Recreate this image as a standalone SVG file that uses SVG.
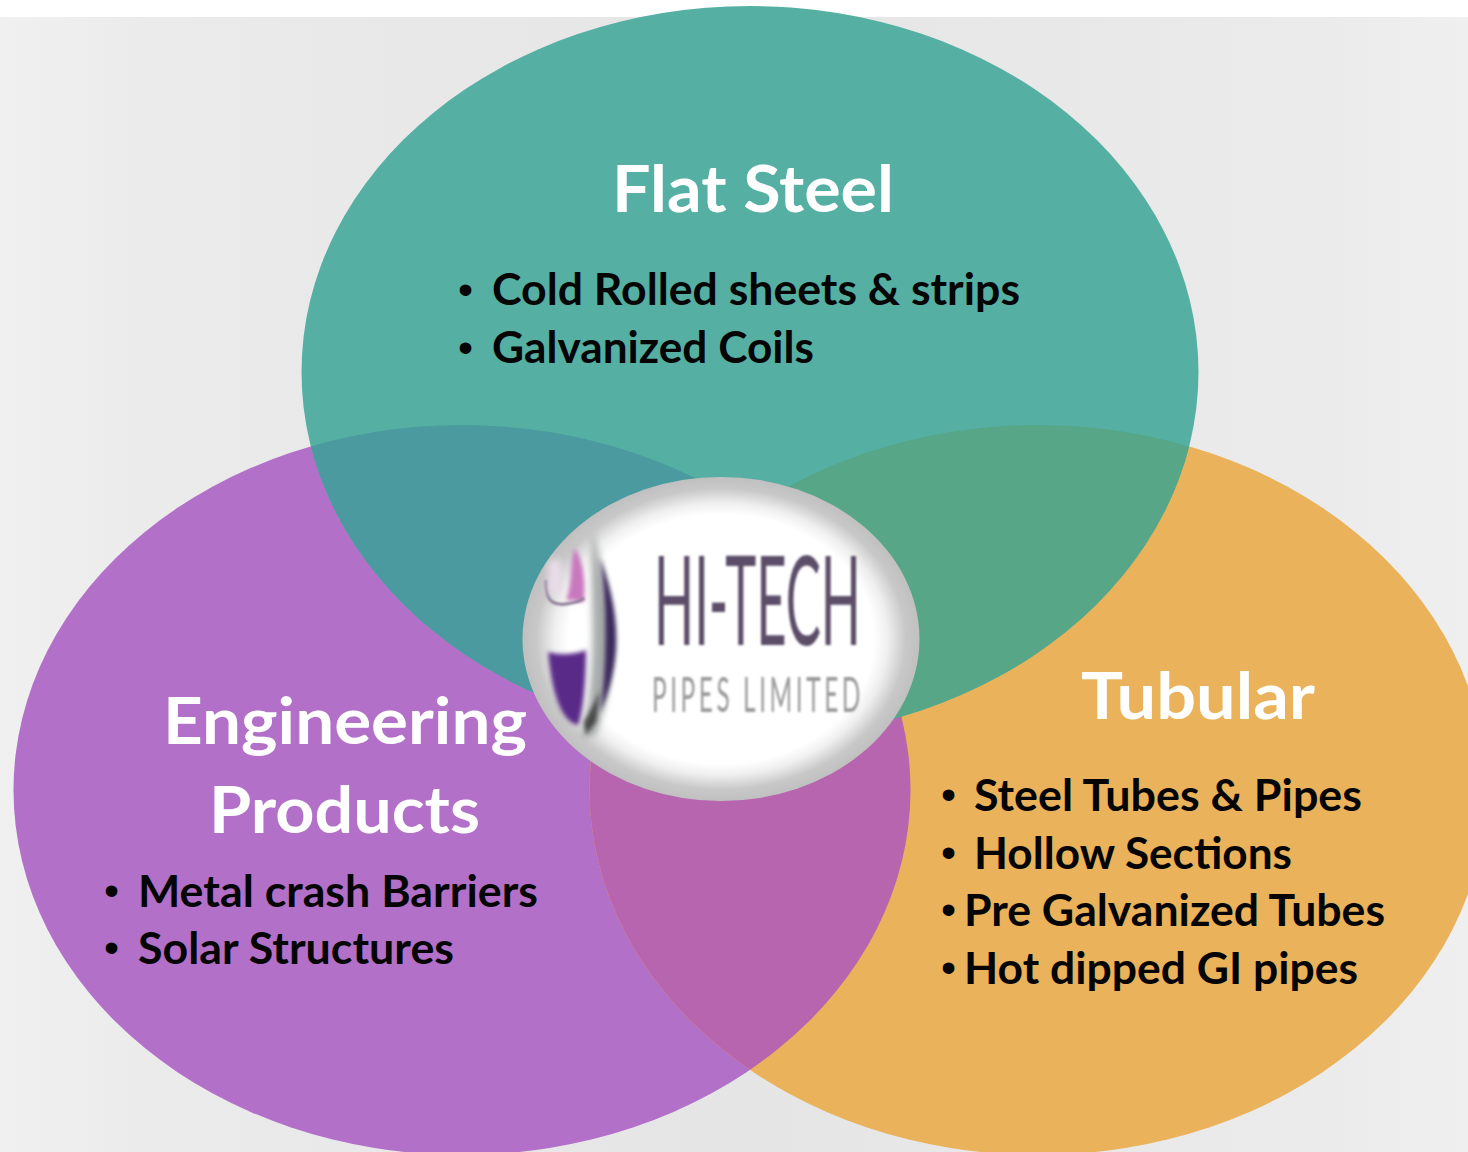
<svg xmlns="http://www.w3.org/2000/svg" width="1468" height="1152" viewBox="0 0 1468 1152">
<style>
text{font-family:Lato,"Liberation Sans",sans-serif;font-weight:700}
.h{fill:#fff;font-size:65px}
.b{fill:#050505;font-size:43px}
.d{fill:#050505;font-size:43px;font-family:"Liberation Sans",sans-serif;font-weight:400}
</style>
<defs>
<linearGradient id="bg" x1="0" y1="0" x2="1" y2="0"><stop offset="0" stop-color="#f0f0f0"/><stop offset=".1" stop-color="#ebebeb"/><stop offset=".5" stop-color="#e5e5e5"/><stop offset=".9" stop-color="#ebebeb"/><stop offset="1" stop-color="#efefef"/></linearGradient>
<clipPath id="cT"><ellipse cx="750" cy="372" rx="448.500" ry="366"/></clipPath>
<clipPath id="cP"><ellipse cx="462" cy="790" rx="448.500" ry="365"/></clipPath>
<radialGradient id="rim"><stop offset=".77" stop-color="#fff"/><stop offset=".84" stop-color="#efefef"/><stop offset=".93" stop-color="#c8c8c8"/><stop offset="1" stop-color="#c0c0c0"/></radialGradient>
<filter id="b1" x="-20%" y="-20%" width="140%" height="140%"><feGaussianBlur stdDeviation="1"/></filter>
<filter id="b2" x="-40%" y="-20%" width="180%" height="140%"><feGaussianBlur stdDeviation="2"/></filter>
<filter id="b3" x="-60%" y="-40%" width="220%" height="180%"><feGaussianBlur stdDeviation="3.500"/></filter>
<clipPath id="cL"><ellipse cx="721" cy="639" rx="198" ry="162"/></clipPath>
</defs>
<rect x="0" y="0" width="1468" height="1152" fill="#fff"/>
<rect x="0" y="17" width="1468" height="1135" fill="url(#bg)"/>
<g id="engineering-products">
<ellipse cx="462" cy="790" rx="448.500" ry="365" fill="#B370C9"/>
</g>
<g id="tubular">
<ellipse cx="1038" cy="790" rx="448.500" ry="365" fill="#EAB25A"/>
<ellipse cx="1038" cy="790" rx="448.500" ry="365" fill="#B665AE" clip-path="url(#cP)"/>
</g>
<g id="flat-steel">
<ellipse cx="750" cy="372" rx="448.500" ry="366" fill="#55B0A3"/>
<g clip-path="url(#cT)">
<ellipse cx="462" cy="790" rx="448.500" ry="365" fill="#4A9A9F"/>
<ellipse cx="1038" cy="790" rx="448.500" ry="365" fill="#56A687"/>
</g>
<text class="h" x="612" y="212" textLength="282" lengthAdjust="spacingAndGlyphs">Flat Steel</text>
<text class="d" x="458" y="304">•</text>
<text class="b" x="492" y="305" textLength="528" lengthAdjust="spacingAndGlyphs">Cold Rolled sheets &amp; strips</text>
<text class="d" x="458" y="362">•</text>
<text class="b" x="492" y="363" textLength="322" lengthAdjust="spacingAndGlyphs">Galvanized Coils</text>
</g>
<g id="engineering-labels">
<text class="h" x="163" y="744" textLength="364" lengthAdjust="spacingAndGlyphs">Engineering</text>
<text class="h" x="209" y="833" textLength="271" lengthAdjust="spacingAndGlyphs">Products</text>
<text class="d" x="104" y="905">•</text>
<text class="b" x="138" y="907" textLength="400" lengthAdjust="spacingAndGlyphs">Metal crash Barriers</text>
<text class="d" x="104" y="962">•</text>
<text class="b" x="138" y="964" textLength="316" lengthAdjust="spacingAndGlyphs">Solar Structures</text>
</g>
<g id="tubular-labels">
<text class="h" x="1081" y="719" textLength="234" lengthAdjust="spacingAndGlyphs">Tubular</text>
<text class="d" x="941" y="809">•</text>
<text class="b" x="974" y="811" textLength="388" lengthAdjust="spacingAndGlyphs">Steel Tubes &amp; Pipes</text>
<text class="d" x="941" y="867">•</text>
<text class="b" x="974" y="869" textLength="318" lengthAdjust="spacingAndGlyphs">Hollow Sections</text>
<text class="d" x="941" y="924">•</text>
<text class="b" x="964" y="926" textLength="421" lengthAdjust="spacingAndGlyphs">Pre Galvanized Tubes</text>
<text class="d" x="941" y="982">•</text>
<text class="b" x="964" y="984" textLength="394" lengthAdjust="spacingAndGlyphs">Hot dipped GI pipes</text>
</g>
<g id="logo">
<ellipse cx="721" cy="639" rx="198.500" ry="162" fill="url(#rim)"/>
<g clip-path="url(#cL)">
<path d="M592 530C590 580 594 620 592 660C590 695 586 720 582 738L596 735C606 705 612 680 610 640C608 600 602 560 592 530Z" fill="#a8abab" filter="url(#b3)"/>
<path d="M600 558C612 590 618 620 616 650C614 675 608 695 600 712C606 680 608 610 600 558Z" fill="#3a2a5c" filter="url(#b2)"/>
<path d="M584 722C590 712 596 700 600 690L596 722L586 735Z" fill="#4a4a4a" filter="url(#b2)"/>
<path d="M548 652C562 656 576 654 586 650C586 690 582 715 578 725C562 722 552 695 548 652Z" fill="#5a2a88" filter="url(#b2)"/>
<path d="M574 548C584 560 586 585 584 602L566 600C572 585 570 565 574 548Z" fill="#c878bd" filter="url(#b2)"/>
<path d="M546 580C546 596 548 606 566 604C574 603 580 602 584 598" fill="none" stroke="#8d7b96" stroke-width="3" filter="url(#b1)"/>
<rect x="548" y="560" width="14" height="34" fill="#e8dce8" filter="url(#b3)"/>
</g>
<text x="654" y="645" textLength="207" lengthAdjust="spacingAndGlyphs" style="font-family:Lato,sans-serif;font-weight:400;font-size:124px" fill="#5c4d68" filter="url(#b1)">HI-TECH</text>
<text x="652" y="712" textLength="212" lengthAdjust="spacingAndGlyphs" style="font-family:Lato,sans-serif;font-weight:400;font-size:48px;letter-spacing:7px" fill="#9a9a9a" filter="url(#b1)">PIPES LIMITED</text>
</g>
</svg>
